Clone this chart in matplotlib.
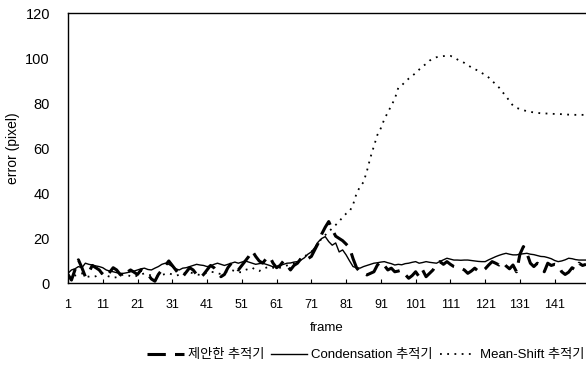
import matplotlib.pyplot as plt
import numpy as np

plt.rcParams["font.family"] = ["Liberation Sans", "Noto Sans CJK KR", "DejaVu Sans"]

# frame numbers and tick labels
frames = np.arange(1, 151)
tick_frames = list(range(1, 142, 10))

# proposed tracker (dashed)
proposed = [
    4, 1.5, 6, 10.5, 7, 3, 5, 8, 7, 6,
    4, 3, 5, 7, 6, 4, 3, 5, 6, 5,
    4, 6, 5, 4, 2, 1, 4, 6, 8, 10,
    8, 6, 4, 3, 5, 7, 6, 4, 2.5, 4,
    6, 8, 7, 5, 3, 4, 7, 9, 8, 6,
    8, 10, 12, 14.5, 12, 10, 9, 11, 12, 9,
    7, 8, 10, 8, 6, 8, 9, 11, 10, 11,
    12, 15, 18, 22, 25, 27.5, 24, 21, 20, 19,
    17.5, 15.8, 11, 7, 5, 4.5, 3.8, 4.5, 5.2, 8.2,
    9.7, 8, 6, 6.8, 5.2, 5.5, 6, 4, 2.3, 3.5,
    5.2, 3, 6, 3, 4.5, 6, 9, 9.7, 8.5, 9.7,
    8.5, 7.5, 7, 6.8, 6, 4.5, 5.5, 6.8, 5.5, 5.2,
    6.5, 8.2, 9.7, 9, 8.2, 9.7, 7.8, 6.5, 8.2, 5.2,
    13, 16.4, 13.4, 9, 7.5, 9, 7.5, 5.2, 9, 8,
    8.5, 8.2, 5.2, 4, 5, 7, 6, 9, 8, 8.5,
]

# Condensation tracker (solid)
condensation = [
    4.5, 6, 6.5, 7.5, 7, 9, 8.5, 8.2, 7.8, 7.5,
    7, 6, 5.5, 5.2, 4.8, 4.5, 4.5, 4.8, 5.2, 5.5,
    6, 6.5, 6.8, 6.2, 6, 6.8, 7.5, 8.5, 9, 8.5,
    7.5, 6.5, 6, 6.8, 7, 7.5, 8, 8.5, 8.2, 8,
    7.5, 7.8, 8.5, 9, 8.5, 8, 8.5, 9, 9.5, 9,
    9.5, 10, 9.5, 9, 8.5, 8.8, 9, 8.5, 8, 7.4,
    7.5, 8, 8.5, 9, 9.1, 9.5, 9.7, 10.4, 11.4, 13,
    14, 16, 18.5, 20, 20.8, 18.6, 17, 18, 14, 14.9,
    12.7, 10, 7.5, 7, 6.8, 7.5, 8, 8.5, 9, 9.2,
    9.5, 9.7, 9.2, 8.8, 8.2, 8.5, 8.3, 8.8, 9, 9.4,
    9.7, 9, 9.3, 9.7, 9.4, 9.2, 9, 9.8, 10.5, 11.2,
    10.8, 10.4, 10.4, 10.3, 10.4, 10.4, 10.2, 10, 9.8, 9.7,
    9.7, 10.5, 11.2, 11.9, 12.5, 13, 13.4, 13, 12.7, 12.7,
    13, 13.2, 13.4, 13, 12.8, 12.4, 12, 11.9, 11.5, 11,
    10.2, 9.7, 10, 10.5, 11.2, 11, 10.6, 10.4, 10.4, 10.4,
]

# Mean-Shift tracker (dotted)
mean_shift = [
    3, 2.5, 3.5, 4, 4.5, 3.5, 3, 2.8, 3.2, 4,
    4.5, 3.5, 3, 2.5, 2.8, 3.5, 4, 3.8, 3.2, 3,
    3.5, 4, 4.5, 4, 3.5, 3, 3.2, 3.8, 4.2, 4.5,
    4, 3.5, 3.8, 4.2, 4.8, 5, 4.5, 4, 3.8, 4.2,
    4.8, 5.2, 5, 4.5, 4.2, 4.8, 5.5, 6, 5.5, 5,
    5, 6, 6.5, 7, 6, 5.5, 6.5, 7, 7.5, 7,
    6.5, 7, 7.5, 8, 8.5, 9, 10, 11, 12, 13,
    14, 16, 18, 20, 21.5, 23, 24.5, 26, 27.5, 29.5,
    31, 32, 35, 40, 43, 45, 50, 56, 61, 66,
    69, 73, 76, 79, 82, 86.9, 88, 89.6, 91, 92.2,
    93.5, 95, 96.5, 97.5, 99, 99.8, 100.5, 100.8, 101, 101.1,
    101.1, 100.5, 99.5, 98.7, 98, 97, 96, 95.2, 94.5, 93.5,
    92.7, 91.5, 90, 88.5, 87, 85, 83.2, 81, 79, 78,
    77.5, 77, 76.5, 76.2, 76, 75.8, 75.6, 75.5, 75.5, 75.4,
    75.3, 75.3, 75.2, 75.1, 75, 75, 74.9, 74.9, 74.9, 74.9,
]

labels = ["제안한 추적기", "Condensation 추적기", "Mean-Shift 추적기"]

fig = plt.figure(figsize=(5.86, 3.81), dpi=100)
ax = fig.add_axes([0.116, 0.256, 0.884, 0.709])

ax.plot(frames, proposed, color="black", lw=2.2, dashes=(6, 3), label=labels[0])
ax.plot(frames, condensation, color="black", lw=1.0, label=labels[1])
ax.plot(frames, mean_shift, color="black", lw=1.3, dashes=(1, 3), label=labels[2])

ax.set_xlim(1, 150)
ax.set_ylim(0, 120)
ax.set_xticks(tick_frames)
ax.set_xticklabels([str(t) for t in tick_frames])
ax.set_yticks(range(0, 121, 20))
ax.tick_params(axis="x", direction="in", length=3, pad=11, labelsize=9)
ax.tick_params(axis="y", length=0, pad=13, labelsize=10.5)
ax.spines["right"].set_visible(False)
for s in ["left", "bottom", "top"]:
    ax.spines[s].set_linewidth(1.0)

ax.set_xlabel("frame", fontsize=9.5, labelpad=8)
ax.set_ylabel("error (pixel)", fontsize=10)
ax.yaxis.set_label_coords(-0.092, 0.5)

fig.legend(loc="center right", bbox_to_anchor=(0.998, 0.068), ncol=3, frameon=False,
           fontsize=9.5, handlelength=2.8, columnspacing=0.5, handletextpad=0.3,
           borderaxespad=0, borderpad=0)

fig.savefig("out.png", dpi=100)
